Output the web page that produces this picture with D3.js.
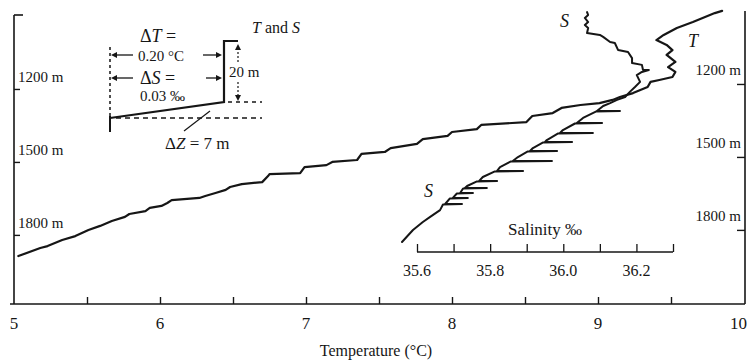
<!DOCTYPE html>
<html><head><meta charset="utf-8">
<script src="https://cdn.jsdelivr.net/npm/d3@7/dist/d3.min.js"></script>
<style>
body{margin:0;background:#fff;}
svg{display:block;font-family:"Liberation Serif","DejaVu Serif",serif;}
</style></head><body>
<svg id="c" width="748" height="362"></svg>
<script>
// ---- data ----
const tempTicks = [5.5, 6, 6.5, 7, 7.5, 8, 8.5, 9, 9.5];
const tempLabels = [5, 6, 7, 8, 9, 10];
const depthTicks = [1200, 1500, 1800];
const salTicks = [35.6, 35.7, 35.8, 35.9, 36.0, 36.1, 36.2, 36.3];
const salLabels = [35.6, 35.8, 36.0, 36.2];

// temperature profile (°C vs depth m)
const tempT = [5.03,5.18,5.23,5.33,5.42,5.51,5.59,5.67,5.76,5.79,5.90,5.93,6.01,6.05,6.08,6.27,6.31,6.38,6.45,6.48,6.56,6.70,6.74,6.75,6.96,6.99,7.14,7.18,7.35,7.38,7.54,7.58,7.76,7.80,7.97,8.00,8.17,8.20,8.51,8.55,8.69,8.75,8.88,9.01,9.10,9.15,9.24,9.29,9.34,9.36,9.42,9.51,9.53,9.48,9.53,9.47,9.51,9.47,9.40,9.45,9.54,9.65,9.80,9.85];
const tempDepth = [1887,1854,1846,1821,1805,1780,1763,1743,1726,1714,1702,1689,1681,1669,1657,1648,1640,1628,1615,1603,1591,1583,1558,1550,1546,1521,1513,1500,1492,1467,1459,1443,1426,1406,1393,1377,1365,1348,1336,1311,1299,1278,1266,1258,1245,1233,1217,1204,1192,1171,1163,1151,1130,1110,1089,1060,1040,1019,999,978,949,925,888,879];

// salinity profile (‰ vs depth m), including the overshoot spikes at each step
const salS = [36.065,36.068,36.059,36.068,36.059,36.068,36.065,36.100,36.109,36.128,36.141,36.150,36.177,36.188,36.188,36.215,36.218,36.234,36.215,36.201,36.210,36.196,36.182,36.169,36.147,36.128,36.109,36.092,36.155,36.089,36.054,36.037,36.106,36.032,35.999,35.991,36.081,35.986,35.955,35.950,36.024,35.945,35.917,35.909,35.983,35.903,35.876,35.862,35.969,35.857,35.827,35.819,35.890,35.813,35.780,35.770,35.819,35.764,35.737,35.731,35.791,35.726,35.718,35.753,35.709,35.698,35.739,35.690,35.677,35.723,35.671,35.663,35.636,35.616,35.589,35.559];
const salDepth = [884,896,908,925,937,949,970,978,986,1007,1011,1040,1048,1073,1093,1101,1122,1122,1130,1143,1171,1192,1212,1233,1245,1258,1270,1291,1291,1293,1319,1340,1340,1342,1369,1381,1381,1383,1410,1418,1418,1420,1443,1455,1455,1457,1480,1496,1496,1498,1521,1537,1537,1539,1562,1578,1578,1580,1599,1607,1607,1609,1628,1628,1630,1648,1648,1650,1673,1673,1675,1698,1726,1747,1780,1829];

// ---- scales ----
const svg = d3.select("#c");
const ink = "#161616";
const x = d3.scaleLinear([5, 10], [14, 744]);
const yL = d3.scaleLinear([900, 2080], [16, 303]);
const yR = d3.scaleLinear([900, 2080], [11, 298]);
const xs = d3.scaleLinear([35.6, 36.3], [417, 673]);
const axisY = 304;
const salAxisY = 252;

// ---- frame / axes ----
svg.append("line").attr("x1", 14).attr("x2", 14).attr("y1", 15).attr("y2", axisY)
  .attr("stroke", ink).attr("stroke-width", 1.6);
svg.append("line").attr("x1", 14).attr("x2", 23).attr("y1", 15).attr("y2", 15)
  .attr("stroke", ink).attr("stroke-width", 1.6);
const gl = svg.append("g").attr("transform", "translate(14,0)")
  .call(d3.axisRight(yL).tickValues(depthTicks).tickSize(6).tickFormat(""));
gl.select(".domain").remove();
gl.selectAll("line").attr("stroke", ink).attr("stroke-width", 1.4);
svg.selectAll("text.ldl").data(depthTicks).join("text").attr("class", "ldl")
  .attr("x", 18).attr("y", d => yL(d) - 7).attr("font-size", 15).attr("fill", ink)
  .text(d => d + " m");

svg.append("line").attr("x1", 745).attr("x2", 745).attr("y1", 11).attr("y2", axisY)
  .attr("stroke", ink).attr("stroke-width", 1.6);
const gr = svg.append("g").attr("transform", "translate(745,0)")
  .call(d3.axisLeft(yR).tickValues(depthTicks).tickSize(8).tickFormat(""));
gr.select(".domain").remove();
gr.selectAll("line").attr("stroke", ink).attr("stroke-width", 1.4);
svg.selectAll("text.rdl").data(depthTicks).join("text").attr("class", "rdl")
  .attr("x", 741).attr("y", d => yR(d) - 9).attr("text-anchor", "end")
  .attr("font-size", 15).attr("fill", ink).text(d => d + " m");

svg.append("line").attr("x1", 10).attr("x2", 745).attr("y1", axisY).attr("y2", axisY)
  .attr("stroke", ink).attr("stroke-width", 1.6);
const gb = svg.append("g").attr("transform", `translate(0,${axisY})`)
  .call(d3.axisBottom(x).tickValues(tempTicks).tickSizeInner(-7).tickSizeOuter(0).tickFormat(""));
gb.select(".domain").remove();
gb.selectAll("line").attr("stroke", ink).attr("stroke-width", 1.4);
svg.selectAll("text.tl").data(tempLabels).join("text").attr("class", "tl")
  .attr("x", d => d === 10 ? x(d) + 3 : x(d)).attr("y", 329)
  .attr("text-anchor", d => d === 10 ? "end" : "middle")
  .attr("font-size", 17).attr("fill", ink).text(d => d);
svg.append("text").attr("x", 376).attr("y", 356).attr("text-anchor", "middle")
  .attr("font-size", 16).attr("fill", ink).text("Temperature (°C)");

svg.append("line").attr("x1", xs(35.6)).attr("x2", xs(36.3)).attr("y1", salAxisY).attr("y2", salAxisY)
  .attr("stroke", ink).attr("stroke-width", 1.4);
const gs = svg.append("g").attr("transform", `translate(0,${salAxisY})`)
  .call(d3.axisBottom(xs).tickValues(salTicks).tickSizeInner(-8).tickSizeOuter(0).tickFormat(""));
gs.select(".domain").remove();
gs.selectAll("line").attr("stroke", ink).attr("stroke-width", 1.3);
svg.selectAll("text.sl").data(salLabels).join("text").attr("class", "sl")
  .attr("x", d => xs(d)).attr("y", 276).attr("text-anchor", "middle")
  .attr("font-size", 16).attr("fill", ink).text(d => d.toFixed(1));
svg.append("text").attr("x", 545).attr("y", 235).attr("text-anchor", "middle")
  .attr("font-size", 17).attr("fill", ink).text("Salinity ‰");

// ---- profiles ----
const tData = d3.range(Math.min(tempT.length, tempDepth.length)).map(i => [tempT[i], tempDepth[i]]);
const sData = d3.range(Math.min(salS.length, salDepth.length)).map(i => [salS[i], salDepth[i]]);
svg.append("path").datum(tData)
  .attr("d", d3.line().x(d => x(d[0])).y(d => yL(d[1])))
  .attr("fill", "none").attr("stroke", ink).attr("stroke-width", 2.2)
  .attr("stroke-linejoin", "round").attr("stroke-linecap", "round");
svg.append("path").datum(sData)
  .attr("d", d3.line().x(d => xs(d[0])).y(d => yL(d[1])))
  .attr("fill", "none").attr("stroke", ink).attr("stroke-width", 2)
  .attr("stroke-linejoin", "round").attr("stroke-linecap", "round");

svg.append("text").attr("x", 560).attr("y", 27).attr("font-size", 18).attr("font-style", "italic")
  .attr("fill", ink).text("S");
svg.append("text").attr("x", 688).attr("y", 47).attr("font-size", 18).attr("font-style", "italic")
  .attr("fill", ink).text("T");
svg.append("text").attr("x", 424).attr("y", 197).attr("font-size", 18).attr("font-style", "italic")
  .attr("fill", ink).text("S");

// ---- inset schematic ----
const ins = svg.append("g").attr("stroke", ink).attr("fill", "none");
ins.append("line").attr("x1", 110).attr("y1", 47).attr("x2", 110).attr("y2", 116)
  .attr("stroke-width", 1.5).attr("stroke-dasharray", "3,3");
ins.append("line").attr("x1", 110).attr("y1", 116).attr("x2", 110).attr("y2", 132).attr("stroke-width", 2);
ins.append("polyline").attr("points", "110,118 224,102 224,41 238,41").attr("stroke-width", 2.2);
ins.append("line").attr("x1", 228).attr("y1", 102).attr("x2", 262).attr("y2", 102)
  .attr("stroke-width", 1.5).attr("stroke-dasharray", "4,4");
ins.append("line").attr("x1", 116).attr("y1", 118).attr("x2", 262).attr("y2", 118)
  .attr("stroke-width", 1.5).attr("stroke-dasharray", "5,4");
ins.append("line").attr("x1", 210).attr("y1", 111).attr("x2", 184).attr("y2", 131).attr("stroke-width", 1.2);
ins.append("line").attr("x1", 238).attr("y1", 48).attr("x2", 238).attr("y2", 62).attr("stroke-width", 1.2).attr("stroke-dasharray", "2,2");
ins.append("line").attr("x1", 238).attr("y1", 82).attr("x2", 238).attr("y2", 97).attr("stroke-width", 1.2).attr("stroke-dasharray", "2,2");
const ah = (px, py, dx, dy) => {
  const nx = -dy, ny = dx;
  ins.append("path").attr("d", `M${px},${py} L${px - dx*6 + nx*3},${py - dy*6 + ny*3} L${px - dx*6 - nx*3},${py - dy*6 - ny*3} Z`)
    .attr("fill", ink).attr("stroke", "none");
};
ah(238, 44, 0, -1); ah(238, 101, 0, 1);
[[55, 133, 111], [78, 133, 111]].forEach(([yy, a, b]) => {
  ins.append("line").attr("x1", a).attr("y1", yy).attr("x2", b + 4).attr("y2", yy).attr("stroke-width", 1.3);
  ah(b, yy, -1, 0);
});
[[55, 203, 222], [78, 206, 222]].forEach(([yy, a, b]) => {
  ins.append("line").attr("x1", a).attr("y1", yy).attr("x2", b - 4).attr("y2", yy).attr("stroke-width", 1.3);
  ah(b, yy, 1, 0);
});
const it = (tx, ty, fs, parts) => {
  const t = svg.append("text").attr("x", tx).attr("y", ty).attr("font-size", fs).attr("fill", ink);
  parts.forEach(([s, ital]) => t.append("tspan").attr("font-style", ital ? "italic" : "normal").text(s));
};
it(140, 42, 18, [["Δ", 0], ["T", 1], [" =", 0]]);
it(138, 61, 15, [["0.20 °C", 0]]);
it(140, 84, 18, [["Δ", 0], ["S", 1], [" =", 0]]);
it(140, 101, 15, [["0.03 ‰", 0]]);
it(229, 77, 15, [["20 m", 0]]);
it(165, 149, 17, [["Δ", 0], ["Z", 1], [" = 7 m", 0]]);
it(252, 33, 16, [["T", 1], [" and ", 0], ["S", 1]]);
</script>
</body></html>
